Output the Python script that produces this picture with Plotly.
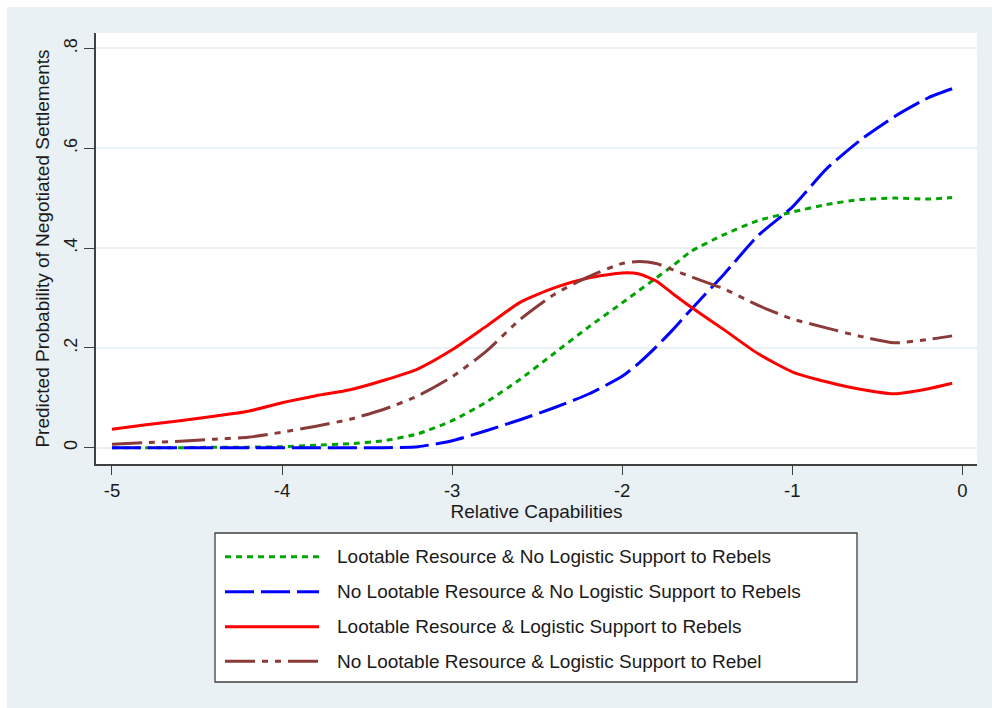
import plotly.graph_objects as go

# Relative capabilities (x) at which predicted probabilities are evaluated
capabilities = [-5.0, -4.8, -4.6, -4.4, -4.2, -4.0, -3.8, -3.6, -3.4, -3.2,
                -3.0, -2.8, -2.6, -2.4, -2.2, -2.0, -1.9, -1.8, -1.7, -1.6,
                -1.4, -1.2, -1.0, -0.8, -0.6, -0.4, -0.2, -0.06]

loot_no_support = [0.000, 0.000, 0.000, 0.001, 0.001, 0.002, 0.005, 0.008, 0.014, 0.028,
                   0.054, 0.091, 0.137, 0.189, 0.241, 0.290, 0.315, 0.340, 0.365, 0.392,
                   0.427, 0.455, 0.472, 0.487, 0.497, 0.500, 0.498, 0.501]

noloot_no_support = [0.000, 0.000, 0.000, 0.000, 0.000, 0.000, 0.000, 0.000, 0.000, 0.002,
                     0.014, 0.034, 0.056, 0.080, 0.107, 0.143, 0.170, 0.202, 0.237, 0.275,
                     0.348, 0.425, 0.482, 0.558, 0.616, 0.663, 0.701, 0.719]

loot_support = [0.037, 0.046, 0.054, 0.063, 0.073, 0.090, 0.104, 0.116, 0.135, 0.158,
                0.196, 0.243, 0.291, 0.320, 0.340, 0.350, 0.348, 0.334, 0.308, 0.283,
                0.236, 0.188, 0.152, 0.132, 0.117, 0.108, 0.118, 0.129]

noloot_support = [0.007, 0.010, 0.013, 0.017, 0.021, 0.031, 0.043, 0.057, 0.077, 0.104,
                  0.142, 0.193, 0.257, 0.307, 0.342, 0.369, 0.373, 0.369, 0.356, 0.343,
                  0.318, 0.285, 0.258, 0.240, 0.223, 0.210, 0.217, 0.224]

series_names = [
    "Lootable Resource & No Logistic Support to Rebels",
    "No Lootable Resource & No Logistic Support to Rebels",
    "Lootable Resource & Logistic Support to Rebels",
    "No Lootable Resource & Logistic Support to Rebel",
]
series_values = [loot_no_support, noloot_no_support, loot_support, noloot_support]
series_colors = ["#00A400", "#0000FF", "#FF0000", "#8B3A3A"]
series_dash = ["6px,5px", "29px,7px", "solid", "30px,7px,6px,7px,6px,7px"]

x_ticks = [-5, -4, -3, -2, -1, 0]
x_tick_labels = ["-5", "-4", "-3", "-2", "-1", "0"]
y_ticks = [0, 0.2, 0.4, 0.6, 0.8]
y_tick_labels = ["0", ".2", ".4", ".6", ".8"]

FONT = "Liberation Sans, Arial, sans-serif"
TXT = "#1a1a1a"
BG = "#EAF1F4"
W, H = 992, 708
ML, MR, MT, MB = 96, 15, 33, 244
PW, PH = W - ML - MR, H - MT - MB


def px(xp):
    return (xp - ML) / PW


def py(yp):
    return (H - MB - yp) / PH


fig = go.Figure()
for name, vals, col, dash in zip(series_names, series_values, series_colors, series_dash):
    fig.add_trace(go.Scatter(
        x=capabilities, y=vals, mode="lines", name=name,
        line=dict(color=col, width=3, dash=dash, shape="spline", smoothing=0.6),
        showlegend=False,
    ))

shapes = [
    # graph region background
    dict(type="rect", xref="paper", yref="paper", x0=px(7), x1=px(W + 5),
         y0=py(H + 5), y1=py(7), fillcolor=BG, line=dict(width=0), layer="below"),
    dict(type="rect", xref="paper", yref="paper", x0=0, x1=1, y0=0, y1=1,
         fillcolor="white", line=dict(width=0), layer="below"),
    # legend frame
    dict(type="rect", xref="paper", yref="paper", x0=px(215), x1=px(857),
         y0=py(682), y1=py(533), fillcolor="white",
         line=dict(color="#404040", width=1.3)),
]

annotations = []
row_y = [556.7, 591.7, 626.7, 661.3]
for name, col, dash, ry in zip(series_names, series_colors, series_dash, row_y):
    shapes.append(dict(type="line", xref="paper", yref="paper",
                       x0=px(225), x1=px(319), y0=py(ry), y1=py(ry),
                       line=dict(color=col, width=3, dash=dash)))
    annotations.append(dict(xref="paper", yref="paper", x=px(335), y=py(ry),
                            xanchor="left", yanchor="middle", showarrow=False,
                            text=name, font=dict(family=FONT, size=19, color=TXT)))

fig.update_layout(
    width=W, height=H,
    margin=dict(l=ML, r=MR, t=MT, b=MB, pad=0),
    paper_bgcolor="white", plot_bgcolor="white",
    font=dict(family=FONT, size=18, color=TXT),
    shapes=shapes, annotations=annotations,
    showlegend=False,
)

fig.update_xaxes(
    range=[-5.094, 0.0865], tickvals=x_ticks, ticktext=x_tick_labels,
    showgrid=False, zeroline=False,
    showline=True, linecolor="#404040", linewidth=1.5,
    ticks="outside", ticklen=9, tickwidth=1.3, tickcolor="#404040",
    tickfont=dict(size=18.5),
    title=dict(text="Relative Capabilities", font=dict(size=19), standoff=0),
)
fig.update_yaxes(
    range=[-0.0327, 0.8307], tickvals=y_ticks, ticktext=y_tick_labels,
    tickangle=-90,
    showgrid=True, gridcolor=BG, gridwidth=2, zeroline=False,
    showline=True, linecolor="#404040", linewidth=1.5,
    ticks="outside", ticklen=10, tickwidth=1.3, tickcolor="#404040",
    tickfont=dict(size=18),
    title=dict(text="Predicted Probability of Negotiated Settlements",
               font=dict(size=19), standoff=6),
)

fig.write_html("out.html")
